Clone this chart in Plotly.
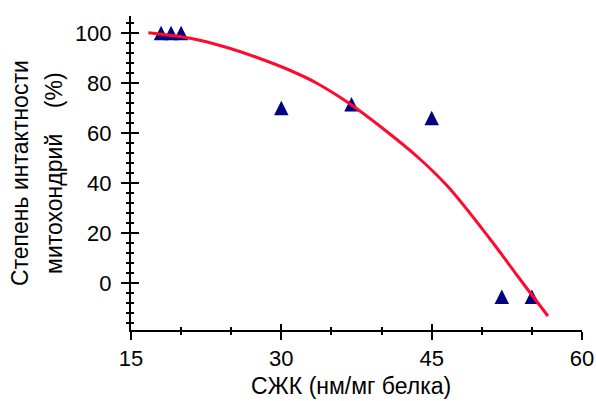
import plotly.graph_objects as go

# Measured points: fatty acid content vs. mitochondrial intactness
sfa = [18, 19, 20, 30, 37, 45, 52, 55]
intactness = [100, 100, 100, 70, 71.5, 66, -5.5, -5.5]

# Trend curve through the points
trend_x = [16.73, 20.9, 24.23, 27.57, 30.9, 33.5, 36.9, 40.23, 43.57, 46.57, 50.9, 53.57, 55.0, 56.6]
trend_y = [100.1, 97.9, 94.6, 90.2, 85.0, 80.0, 71.5, 61.5, 50.5, 38.8, 17.2, 2.8, -4.8, -13.2]

x_ticks = [15, 30, 45, 60]
y_ticks = [0, 20, 40, 60, 80, 100]

FONT = "Liberation Sans, Arial, sans-serif"
W, H = 596, 401
M = dict(l=131, r=14, t=16, b=71)
X_RANGE = [15, 60]
Y_RANGE = [-18.8, 106.8]

# The arrow-up symbol is anchored at its tip; its axis is shifted by half the
# symbol height so that every triangle is centred on its value.
MARKER_SIZE = 14.5
units_per_px = (Y_RANGE[1] - Y_RANGE[0]) / (H - M["t"] - M["b"])
shift = MARKER_SIZE / 2 * units_per_px
MARKER_RANGE = [Y_RANGE[0] - shift, Y_RANGE[1] - shift]

fig = go.Figure()

# Base subplot: carries the labelled axes
fig.add_trace(go.Scatter(x=[], y=[], showlegend=False))

fig.add_trace(go.Scatter(
    x=sfa, y=intactness, mode="markers", yaxis="y2",
    marker=dict(symbol="arrow-up", size=MARKER_SIZE, color="#000080",
                line=dict(width=0)),
    showlegend=False, hoverinfo="skip",
))

fig.add_trace(go.Scatter(
    x=trend_x, y=trend_y, mode="lines", yaxis="y3",
    line=dict(color="#ff0a2e", width=3, shape="spline", smoothing=1.0),
    showlegend=False, hoverinfo="skip",
))

# Empty trace that carries the inner halves of the x tick marks
fig.add_trace(go.Scatter(x=[], y=[], xaxis="x2", yaxis="y3", showlegend=False))

axis_common = dict(showgrid=False, zeroline=False, linecolor="black",
                   tickcolor="black", tickwidth=2, automargin=False)

fig.update_layout(
    width=W, height=H,
    margin=dict(**M, autoexpand=False),
    paper_bgcolor="white", plot_bgcolor="white",
    font=dict(family=FONT, size=22, color="black"),
    xaxis=dict(range=X_RANGE, tickvals=x_ticks, ticks="outside", ticklen=8,
               showline=True, linewidth=2,
               minor=dict(dtick=5, tick0=15, ticks="outside", ticklen=3,
                          tickwidth=2, tickcolor="black"),
               tickfont=dict(size=22), **axis_common),
    yaxis=dict(range=Y_RANGE, tickvals=y_ticks, ticks="outside", ticklen=8,
               showline=True, linewidth=2, ticklabelstandoff=5,
               minor=dict(dtick=4, tick0=0, ticks="outside", ticklen=3,
                          tickwidth=2, tickcolor="black"),
               tickfont=dict(size=22), **axis_common),
    yaxis2=dict(range=MARKER_RANGE, overlaying="y", anchor="x", side="left",
                ticks="", showticklabels=False, showline=False,
                **axis_common),
    xaxis2=dict(range=X_RANGE, overlaying="x", anchor="y3", side="bottom",
                tickvals=x_ticks, ticks="inside", ticklen=6, showticklabels=False,
                showline=False,
                minor=dict(dtick=5, tick0=15, ticks="inside", ticklen=3,
                           tickwidth=2, tickcolor="black"),
                **axis_common),
    yaxis3=dict(range=Y_RANGE, overlaying="y", anchor="x", side="left",
                tickvals=y_ticks, ticks="inside", ticklen=8, showticklabels=False,
                showline=False,
                minor=dict(dtick=4, tick0=0, ticks="inside", ticklen=3,
                           tickwidth=2, tickcolor="black"),
                **axis_common),
)

# Axis titles
fig.add_annotation(text="СЖК (нм/мг белка)", xref="paper", yref="paper",
                   x=0.488, y=-0.178, xanchor="center", yanchor="middle",
                   showarrow=False, font=dict(size=23))
fig.add_annotation(text="Степень интактности", xref="paper", yref="paper",
                   x=-0.246, y=0.5, xanchor="center", yanchor="middle",
                   textangle=-90, showarrow=False, font=dict(size=23))
fig.add_annotation(text="митохондрий\u00a0\u00a0\u00a0\u00a0(%)", xref="paper", yref="paper",
                   x=-0.171, y=0.5, xanchor="center", yanchor="middle",
                   textangle=-90, showarrow=False, font=dict(size=23))

fig.write_html("out.html")
